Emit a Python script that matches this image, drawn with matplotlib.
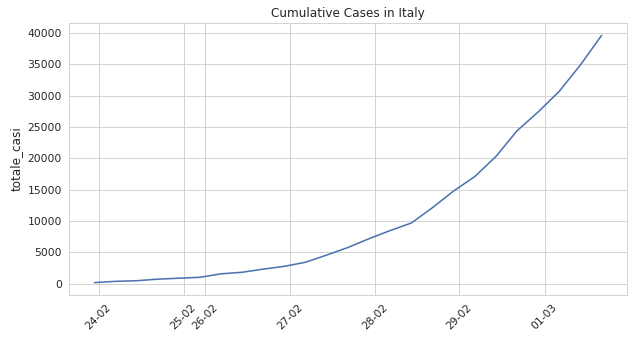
import numpy as np
import matplotlib as mpl
mpl.use('Agg')
import matplotlib.pyplot as plt
import seaborn as sns

sns.set_style('whitegrid')

# daily cumulative cases
totale_casi = [200, 400, 500, 750, 900, 1050, 1600, 1850, 2350, 2800,
               3450, 4600, 5800, 7200, 8500, 9700, 12150, 14800, 17100,
               20300, 24400, 27400, 30700, 34900, 39600]
days = np.arange(len(totale_casi))

tick_pos = [0.2, 4.22, 5.22, 9.25, 13.27, 17.27, 21.3]
tick_labels = ['24-02', '25-02', '26-02', '27-02', '28-02', '29-02', '01-03']

# 633x341 px at dpi 75
fig = plt.figure(figsize=(633 / 75, 341 / 75), dpi=75)
ax = fig.add_axes([0.109, 0.135, 0.8815, 0.7976])
ax.plot(days, totale_casi, color='#4c72b0', linewidth=1.5)

ax.set_xticks(tick_pos)
ax.set_xticklabels(tick_labels, rotation=45)
ax.set_yticks(np.arange(0, 40001, 5000))
ax.tick_params(labelsize=10.3)
ax.set_ylabel('totale_casi', fontsize=11.5)
ax.set_title('Cumulative Cases in Italy', fontsize=11.5)

fig.savefig('out.png', dpi=75)
